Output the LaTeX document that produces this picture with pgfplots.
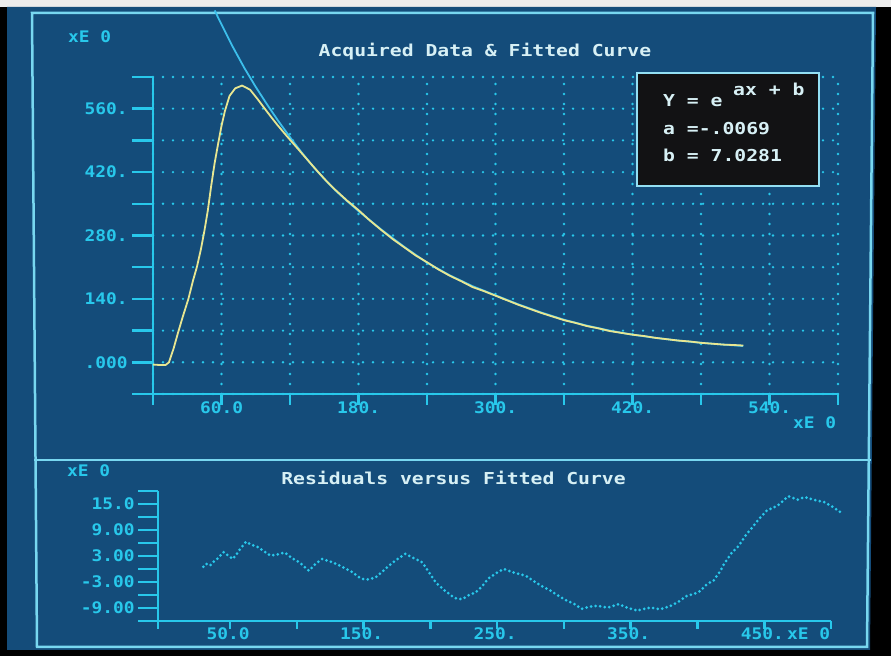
\documentclass[border=0pt]{standalone}
\usepackage{fontspec}
\usepackage{pgfplots}
\pgfplotsset{compat=1.18}
\newfontfamily\crt{DejaVu Sans Mono}[FakeStretch=1.12]
\newfontfamily\crtw{DejaVu Sans Mono}[FakeStretch=1.2]
\definecolor{scr}{RGB}{20,76,122}
\definecolor{cy}{RGB}{40,200,235}
\definecolor{frm}{RGB}{120,215,240}
\definecolor{ttl}{RGB}{215,240,245}
\definecolor{yel}{RGB}{232,230,145}
\definecolor{fitc}{RGB}{60,190,235}
\definecolor{boxk}{RGB}{18,18,20}
\newcommand\tfont{\crt\bfseries\fontsize{16}{18}\selectfont}
\newcommand\hfont{\crtw\bfseries\fontsize{16.5}{19}\selectfont}
\begin{document}
\begin{tikzpicture}[x=1bp,y=1bp]
\useasboundingbox (0,0) rectangle (891,656);
\fill[black] (0,0) rectangle (891,656);
\fill[white!85!gray] (0,649) rectangle (891,656);
\fill[scr] (7,6) -- (870,6) -- (876,649) -- (7,649) -- cycle;
\draw[frm, line width=2.5bp] (32,643) -- (873,643) -- (867,9) -- (37,9) -- cycle;
\draw[frm, line width=2.5bp] (34,196) -- (871,196);
% top panel
\begin{axis}[at={(153bp,262bp)}, anchor=south west, scale only axis,
  width=685bp, height=317bp,
  xmin=0, xmax=600, ymin=-70, ymax=630,
  axis lines=left, axis line style={-, draw=cy, line width=2.5bp},
  clip=false, tick align=outside,
  tick style={draw=cy, line width=2.5bp},
  xtick style={/pgfplots/major tick length=11bp},
  ytick style={/pgfplots/major tick length=21bp},
  xtick={0,60,120,180,240,300,360,420,480,540,600},
  xticklabels={,60.0,,180.,,300.,,420.,,540.,},
  ytick={-70,0,70,140,210,280,350,420,490,560,630},
  yticklabels={,.000,,140.,,280.,,420.,,560.,},
  xticklabel style={font=\tfont, text=cy, inner sep=0pt, anchor=north, yshift=-3bp},
  yticklabel style={font=\tfont, text=cy, inner sep=0pt, anchor=east, xshift=-21bp},
  grid=major,
  major grid style={draw=cy, line width=2.6bp, line cap=round, dash pattern=on 0bp off 10bp},
]
\addplot[fitc, line width=1.8bp] coordinates {
(54,777) (60,746) (70,696) (80,650) (90,608) (100,569) (110,532) (120,497)
(130,464) (140,433) (150,405) (160,379) (170,356) (180,334) (200,293)
(220,255) (240,220) (260,192) (280,168) (300,148) (320,128) (340,110)
(360,94) (380,81) (400,70) (420,61) (440,54) (460,48) (480,43) (500,39) (517,36)
};
\addplot[yel, line width=1.8bp] coordinates {
(0,-5) (6,-6) (11,-6) (14,0) (18,30) (22,66) (26,100) (31,140) (35,180)
(38.5,211) (42,250) (45,290) (48,335) (51,390) (54,440) (57,482) (60,522)
(63,555) (67,588) (72,605) (78,611) (85,602) (92,580) (100,553) (108,527)
(117,500) (125,477) (135,448) (144,422) (152,400) (160,380) (170,357)
(180,336) (190,313) (200,292) (210,272) (220,254) (230,236) (240,221)
(250,205) (260,191) (270,179) (280,166) (290,157) (300,147) (310,137)
(320,127) (330,118) (340,109) (350,101) (360,93) (370,87) (380,80)
(390,75) (400,69) (410,65) (420,61) (430,58) (440,54) (450,51) (460,48)
(470,46) (480,43) (490,41) (500,39) (510,38) (517,37)
};
\end{axis}
% bottom panel
\begin{axis}[at={(158bp,35bp)}, anchor=south west, scale only axis,
  width=673bp, height=130bp,
  xmin=-4, xmax=500, ymin=-12, ymax=18,
  axis lines=left, axis line style={-, draw=cy, line width=2.5bp},
  clip=false, tick align=outside,
  tick style={draw=cy, line width=2.5bp},
  xtick style={/pgfplots/major tick length=8bp},
  ytick style={/pgfplots/major tick length=20bp},
  xtick={-4,50,100,150,200,250,300,350,400,450,500},
  xticklabels={,50.0,,150.,,250.,,350.,,450.,},
  ytick={-12,-9,-6,-3,0,3,6,9,12,15,18},
  yticklabels={,-9.00,,-3.00,,3.00,,9.00,,15.0,},
  xticklabel style={font=\tfont, text=cy, inner sep=0pt, anchor=north, yshift=-2bp, xshift=-2bp},
  yticklabel style={font=\tfont, text=cy, inner sep=0pt, anchor=east, xshift=-19bp},
]
\addplot[cy, line width=3bp, line cap=round, dash pattern=on 0bp off 4.6bp] coordinates {
(30,0.5) (32,1.2) (35,0.8) (38,1.8) (41,2.5) (45,3.9) (48,3.2) (52,2.3)
(55,3.5) (58,4.8) (62,6.3) (66,5.6) (70,5.2) (75,4.2) (80,3.1) (86,3.4)
(91,3.8) (96,2.6) (102,1.5) (106,0.4) (109,-0.4) (114,1.2) (119,2.3)
(126,1.6) (132,0.8) (137,0.0) (142,-0.8) (146,-1.8) (149,-2.3) (154,-2.4)
(159,-1.9) (164,-0.6) (169,0.8) (175,2.2) (181,3.5) (187,2.6) (194,1.5)
(199,-0.8) (204,-3.1) (210,-4.8) (216,-6.2) (220,-6.9) (224,-6.9) (229,-6.0)
(234,-5.4) (239,-3.9) (243,-2.3) (249,-1.0) (255,0.0) (262,-0.8) (271,-1.5)
(277,-2.7) (283,-3.9) (290,-5.0) (296,-6.2) (302,-7.3) (308,-8.1) (313,-9.2)
(319,-8.7) (325,-8.5) (333,-8.9) (341,-8.1) (348,-9.0) (355,-9.6) (360,-9.2)
(365,-8.9) (372,-9.3) (380,-8.5) (386,-7.5) (392,-6.2) (397,-5.8) (402,-5.1)
(407,-3.5) (412,-2.7) (417,-0.5) (420,1.2) (426,3.9) (430,5.0) (436,7.7)
(441,9.6) (446,11.5) (452,13.5) (460,14.6) (468,16.8) (475,16.0) (480,16.6)
(487,16.0) (495,15.4) (502,14.2) (509,12.7)
};
\end{axis}
% texts
\node[anchor=base west, inner sep=0pt, text=cy, font=\tfont] at (68,613) {xE 0};
\node[anchor=base west, inner sep=0pt, text=cy, font=\tfont] at (793,227) {xE 0};
\node[anchor=base west, inner sep=0pt, text=cy, font=\tfont] at (67,179) {xE 0};
\node[anchor=base west, inner sep=0pt, text=cy, font=\tfont] at (787,16) {xE 0};
\node[anchor=base, inner sep=0pt, text=ttl, font=\hfont] at (485,599) {Acquired Data \& Fitted Curve};
\node[anchor=base, inner sep=0pt, text=ttl, font=\hfont] at (453.5,171) {Residuals versus Fitted Curve};
% fit box
\draw[fill=boxk, draw=frm!80!white, line width=2bp] (637,583) rectangle (819,470);
\node[anchor=base west, inner sep=0pt, text=ttl, font=\hfont] at (663,549) {Y = e};
\node[anchor=base west, inner sep=0pt, text=ttl, font=\hfont] at (733,560) {ax + b};
\node[anchor=base west, inner sep=0pt, text=ttl, font=\hfont] at (663,521) {a =-.0069};
\node[anchor=base west, inner sep=0pt, text=ttl, font=\hfont] at (663,494) {b = 7.0281};
\end{tikzpicture}
\end{document}
